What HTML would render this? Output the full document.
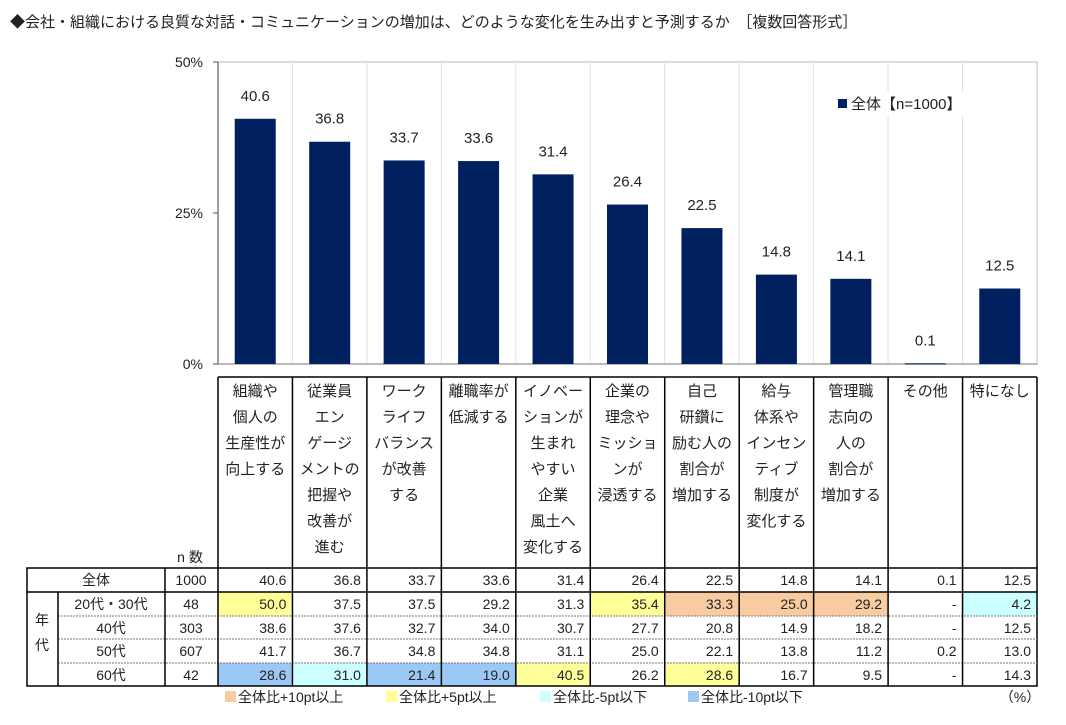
<!DOCTYPE html>
<html><head><meta charset="utf-8">
<style>
body{margin:0;background:#fff;}
svg text{font-family:"Liberation Sans","Noto Sans CJK JP",sans-serif;fill:#222;}
</style></head>
<body>
<svg id="c" width="1066" height="720" xmlns="http://www.w3.org/2000/svg">
<text x="10" y="27" font-size="15">◆会社・組織における良質な対話・コミュニケーションの増加は、どのような変化を生み出すと予測するか　［複数回答形式］</text>
<g id="plot"></g>
<g id="tbl"></g>
</svg>
<script>
const categories=[["組織や","個人の","生産性が","向上する"],["従業員","エン","ゲージ","メントの","把握や","改善が","進む"],["ワーク","ライフ","バランス","が改善","する"],["離職率が","低減する"],["イノベー","ションが","生まれ","やすい","企業","風土へ","変化する"],["企業の","理念や","ミッショ","ンが","浸透する"],["自己","研鑽に","励む人の","割合が","増加する"],["給与","体系や","インセン","ティブ","制度が","変化する"],["管理職","志向の","人の","割合が","増加する"],["その他"],["特になし"]];
const overall=[40.6,36.8,33.7,33.6,31.4,26.4,22.5,14.8,14.1,0.1,12.5];
const yTicks=[0,25,50];
const rowLabels=["20代・30代","40代","50代","60代"];
const rowN=[48,303,607,42];
const row20s=[50.0,37.5,37.5,29.2,31.3,35.4,33.3,25.0,29.2,null,4.2];
const row40s=[38.6,37.6,32.7,34.0,30.7,27.7,20.8,14.9,18.2,null,12.5];
const row50s=[41.7,36.7,34.8,34.8,31.1,25.0,22.1,13.8,11.2,0.2,13.0];
const row60s=[28.6,31.0,21.4,19.0,40.5,26.2,28.6,16.7,9.5,null,14.3];
const legendLabels=["全体比+10pt以上","全体比+5pt以上","全体比-5pt以下","全体比-10pt以下"];

const NS="http://www.w3.org/2000/svg";
function mk(p,t,a,txt){const e=document.createElementNS(NS,t);for(const k in a)e.setAttribute(k,a[k]);if(txt!==undefined)e.textContent=txt;p.appendChild(e);return e;}
const X0=218,X1=1037,Y0=364,Y1=62;
const cw=(X1-X0)/categories.length;
const xc=i=>X0+cw*(i+0.5);
const y=v=>Y0-(v/50)*(Y0-Y1);
const plot=document.getElementById('plot');
let e;
e=mk(plot,'rect',{x:X0,y:Y1,width:X1-X0,height:Y0-Y1,fill:'none',stroke:'#d0d0d0','stroke-width':1.5});


for(let i=1;i<categories.length;i++){e=mk(plot,'line',{x1:X0+cw*i,x2:X0+cw*i,y1:Y1,y2:Y0,stroke:'#e0e0e0'});

}
e=mk(plot,'line',{x1:X0,x2:X0,y1:Y1,y2:Y0,stroke:'#555'});


e=mk(plot,'line',{x1:X0,x2:X1,y1:Y0,y2:Y0,stroke:'#aaa','stroke-width':1.5});


yTicks.forEach(t=>{e=mk(plot,'text',{x:203,y:y(t)+5,'font-size':14,'text-anchor':'end'},t+'%');


e=mk(plot,'line',{x1:X0-5,x2:X0,y1:y(t),y2:y(t),stroke:'#555'});

});
overall.forEach((v,i)=>{
 e=mk(plot,'rect',{x:xc(i)-20.5,y:y(v),width:41,height:Math.max(Y0-y(v),1),fill:'#002060'});
 
 
 e=mk(plot,'text',{x:xc(i),y:y(v)-18,'font-size':15,'text-anchor':'middle'},v.toFixed(1));
 
 
});
e=mk(plot,'rect',{x:832,y:92,width:170,height:24,fill:'#fff'});


e=mk(plot,'rect',{x:838,y:99,width:9,height:9,fill:'#002060'});


e=mk(plot,'text',{x:851,y:109,'font-size':15},'全体【n=1000】');



// table
const T=document.getElementById('tbl');
const HT=377,HB=568;
const rowsY=[568,592,616,639,663,686];
// header
for(let i=0;i<=categories.length;i++){e=mk(T,'line',{x1:X0+cw*i,x2:X0+cw*i,y1:HT,y2:HB,stroke:'#000','stroke-width':1.5});

}
e=mk(T,'line',{x1:X0,x2:X1,y1:HT,y2:HT,stroke:'#000','stroke-width':1.5});


categories.forEach((lines,i)=>{lines.forEach((l,j)=>{
 e=mk(T,'text',{x:xc(i),y:396+j*26,'font-size':15,'text-anchor':'middle'},l);
 
 
});});
e=mk(T,'text',{x:190,y:562,'font-size':14,'text-anchor':'middle'},'n 数');


const colors={o:'#f8cba0',y:'#ffff99',c:'#ccffff',b:'#9cc8f5'};
function hl(v,o){if(v==null)return null;const d=v-o;if(d>=10)return colors.o;if(d>=5)return colors.y;if(d<=-10)return colors.b;if(d<=-5)return colors.c;return null;}
const rows=[row20s,row40s,row50s,row60s];
// cell fills
rows.forEach((r,ri)=>{r.forEach((v,i)=>{const f=hl(v,overall[i]);if(f){e=mk(T,'rect',{x:X0+cw*i,y:rowsY[ri+1],width:cw,height:rowsY[ri+2]-rowsY[ri+1],fill:f});

}});});
// grid
e=mk(T,'rect',{x:27,y:568,width:X1-27,height:686-568,fill:'none',stroke:'#000','stroke-width':1.5});


e=mk(T,'line',{x1:27,x2:X1,y1:592,y2:592,stroke:'#000','stroke-width':1.5});


[616,639,663].forEach(yy=>{e=mk(T,'line',{x1:58,x2:X1,y1:yy,y2:yy,stroke:'#777','stroke-dasharray':'2,1'});

});
e=mk(T,'line',{x1:58,x2:58,y1:592,y2:686,stroke:'#000','stroke-width':1.5});


e=mk(T,'line',{x1:165,x2:165,y1:568,y2:686,stroke:'#000','stroke-width':1.5});


for(let i=0;i<categories.length;i++){e=mk(T,'line',{x1:X0+cw*i,x2:X0+cw*i,y1:568,y2:686,stroke:'#000','stroke-width':1.5});

}
// labels
function cellText(x,yy,t,anchor,name){e=mk(T,'text',{x:x,y:yy,'font-size':14,'text-anchor':anchor},t);

}
cellText(96,585,'全体','middle','row-label');
cellText(191,585,'1000','middle','n-value');
overall.forEach((v,i)=>cellText(X0+cw*(i+1)-6,585,v.toFixed(1),'end','table-value'));
cellText(42,625,'年','middle','group-label');
cellText(42,650,'代','middle','group-label');
rows.forEach((r,ri)=>{const yy=rowsY[ri+1]+17;
 cellText(111,yy,rowLabels[ri],'middle','row-label');
 cellText(191,yy,String(rowN[ri]),'middle','n-value');
 r.forEach((v,i)=>cellText(X0+cw*(i+1)-6,yy,v==null?'-':v.toFixed(1),'end','table-value'));
});
// bottom legend
const lx=[225,386,540,688],lc=[colors.o,colors.y,colors.c,colors.b];
legendLabels.forEach((l,i)=>{e=mk(T,'rect',{x:lx[i],y:691,width:11,height:11,fill:lc[i]});


e=mk(T,'text',{x:lx[i]+13,y:702,'font-size':14},l);

});
e=mk(T,'text',{x:1020,y:702,'font-size':14,'text-anchor':'middle'},'（%）');


</script>
</body></html>
